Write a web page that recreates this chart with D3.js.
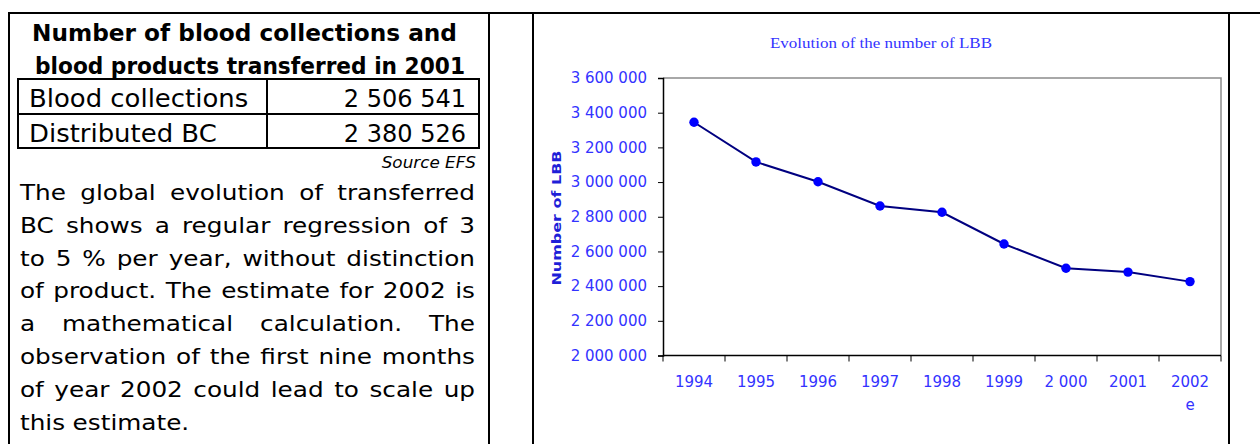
<!DOCTYPE html>
<html>
<head>
<meta charset="utf-8">
<script src="https://cdn.jsdelivr.net/npm/d3@7/dist/d3.min.js"></script>
<style>
  body { margin: 0; background: #fff; }
  svg { display: block; }
</style>
</head>
<body>
<div id="page"></div>
<script>
// data
var years = ["1994", "1995", "1996", "1997", "1998", "1999", "2 000", "2001", "2002\ne"];
var lbbValues = [3345000, 3116000, 3002000, 2862000, 2826000, 2643000, 2503000, 2481000, 2426000];
var yTicks = [2000000, 2200000, 2400000, 2600000, 2800000, 3000000, 3200000, 3400000, 3600000];

var tableTitle = ["Number of blood collections and", "blood products transferred in 2001"];
var tableLabels = ["Blood collections", "Distributed BC"];
var tableValues = ["2 506 541", "2 380 526"];
var bodyLines = [
  "The global evolution of transferred",
  "BC shows a regular regression of 3",
  "to 5 % per year, without distinction",
  "of product. The estimate for 2002 is",
  "a mathematical calculation. The",
  "observation of the first nine months",
  "of year 2002 could lead to scale up",
  "this estimate."
];

var W = 1260, H = 444;
var svg = d3.select("#page").append("svg")
  .attr("width", W).attr("height", H)
  .style("font-family", "'DejaVu Sans', sans-serif");

svg.append("rect").attr("width", W).attr("height", H).attr("fill", "#fff");

// page frame lines (document table)
var frame = svg.append("g").attr("stroke", "#000").attr("stroke-width", 2);
frame.append("line").attr("x1", 8).attr("x2", W).attr("y1", 13).attr("y2", 13);
[9, 489, 533, 1229].forEach(function(x) {
  frame.append("line").attr("x1", x).attr("x2", x).attr("y1", 12).attr("y2", H);
});

// ---- left panel ----
var left = svg.append("g");
var titleSpan = [[32, 457], [35, 465]];
tableTitle.forEach(function(t, i) {
  left.append("text")
    .attr("x", titleSpan[i][0]).attr("y", 41 + i * 32.5)
    .attr("textLength", titleSpan[i][1] - titleSpan[i][0])
    .attr("lengthAdjust", "spacingAndGlyphs")
    .style("font-weight", "bold").style("font-size", "23px")
    .text(t);
});

var tb = left.append("g").attr("stroke", "#000").attr("stroke-width", 2).attr("fill", "none");
tb.append("rect").attr("x", 18).attr("y", 79).attr("width", 461).attr("height", 69);
tb.append("line").attr("x1", 18).attr("x2", 479).attr("y1", 114).attr("y2", 114);
tb.append("line").attr("x1", 267).attr("x2", 267).attr("y1", 79).attr("y2", 148);

// wide-ish text: glyphs stretched a little horizontally
function wideText(g, str, x, y, size, sx, anchor) {
  return g.append("text")
    .attr("transform", "translate(" + x + "," + y + ") scale(" + sx + ",1)")
    .attr("text-anchor", anchor || "start")
    .style("font-size", size + "px")
    .text(str);
}

tableLabels.forEach(function(t, i) {
  wideText(left, t, 29, 107 + i * 35, 24, 1.08);
  wideText(left, tableValues[i], 466, 107 + i * 35, 24, 1.0, "end");
});

wideText(left, "Source EFS", 476, 168, 16, 1.05, "end").style("font-style", "italic");

// justified paragraph: place each word so the line fills x0..x1
var bodySx = 1.15;
function justifyLine(g, line, x0, x1, y, last) {
  var words = line.split(" ");
  var nodes = words.map(function(w) {
    return g.append("text").style("font-size", "21.5px").text(w);
  });
  var widths = nodes.map(function(n) { return n.node().getComputedTextLength() * bodySx; });
  var total = d3.sum(widths);
  var gap = last ? 7.5 : (x1 - x0 - total) / (words.length - 1);
  var x = x0;
  nodes.forEach(function(n, i) {
    n.attr("transform", "translate(" + x + "," + y + ") scale(" + bodySx + ",1)");
    x += widths[i] + gap;
  });
}
bodyLines.forEach(function(l, i) {
  justifyLine(left, l, 20, 475, 200 + i * 32.8, i === bodyLines.length - 1);
});

// ---- chart ----
var plot = {left: 663, right: 1221, top: 78, bottom: 355.5};
var blue = "#3333ff";

var x = d3.scaleBand().domain(years).range([plot.left, plot.right]);
var y = d3.scaleLinear().domain([2000000, 3600000]).range([plot.bottom, plot.top]);

var chart = svg.append("g");

// plot area border (grey top/right)
chart.append("path")
  .attr("d", "M" + plot.left + "," + plot.top + "H" + plot.right + "V" + plot.bottom)
  .attr("fill", "none").attr("stroke", "#8c8c8c").attr("stroke-width", 1.5);

var fmt = d3.formatLocale({decimal: ",", thousands: " ", grouping: [3]}).format(",d");

var yAxis = chart.append("g")
  .attr("transform", "translate(" + plot.left + ",0)")
  .call(d3.axisLeft(y).tickValues(yTicks).tickFormat(fmt).tickSize(5).tickPadding(11));
yAxis.select(".domain").attr("stroke", "#000").attr("stroke-width", 1.5);
yAxis.selectAll(".tick line").attr("stroke", "#000");
yAxis.selectAll(".tick text").attr("fill", blue)
  .style("font-family", "'DejaVu Sans', sans-serif").style("font-size", "15px");

// x axis: ticks at category boundaries, labels centred
var xAxis = chart.append("g");
xAxis.append("line")
  .attr("x1", plot.left).attr("x2", plot.right)
  .attr("y1", plot.bottom).attr("y2", plot.bottom)
  .attr("stroke", "#000").attr("stroke-width", 1.5);
var bounds = years.map(function(d) { return x(d); }).concat([x.range()[1]]);
xAxis.selectAll("line.tk").data(bounds).enter().append("line").attr("class", "tk")
  .attr("x1", function(d) { return d; }).attr("x2", function(d) { return d; })
  .attr("y1", plot.bottom).attr("y2", plot.bottom + 6)
  .attr("stroke", "#000").attr("stroke-width", 1);
var xl = xAxis.selectAll("text.xl").data(years).enter().append("text").attr("class", "xl")
  .attr("text-anchor", "middle").attr("fill", blue).style("font-size", "15px");
xl.each(function(d) {
  var t = d3.select(this);
  d.split("\n").forEach(function(part, i) {
    t.append("tspan")
      .attr("x", x(d) + x.bandwidth() / 2)
      .attr("y", 387 + i * 23)
      .text(part);
  });
});

// line + markers
var line = d3.line()
  .x(function(d, i) { return x(years[i]) + x.bandwidth() / 2; })
  .y(function(d) { return y(d); });
chart.append("path").datum(lbbValues)
  .attr("d", line).attr("fill", "none")
  .attr("stroke", "#000080").attr("stroke-width", 2);
chart.selectAll("circle").data(lbbValues).enter().append("circle")
  .attr("cx", function(d, i) { return x(years[i]) + x.bandwidth() / 2; })
  .attr("cy", function(d) { return y(d); })
  .attr("r", 4.7).attr("fill", "#0000ff");

// titles
chart.append("text")
  .attr("x", 770).attr("y", 48)
  .attr("fill", blue)
  .style("font-family", "'Liberation Serif', serif").style("font-size", "14px")
  .attr("textLength", 222).attr("lengthAdjust", "spacingAndGlyphs")
  .text("Evolution of the number of LBB");

chart.append("text")
  .attr("transform", "translate(561,218) rotate(-90)")
  .attr("text-anchor", "middle").attr("fill", "#1f1fd8")
  .style("font-weight", "bold").style("font-size", "12px")
  .attr("textLength", 135).attr("lengthAdjust", "spacingAndGlyphs")
  .text("Number of LBB");
</script>
</body>
</html>
